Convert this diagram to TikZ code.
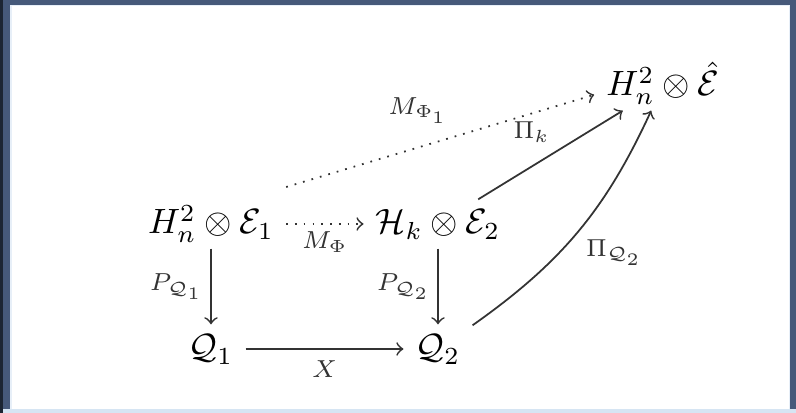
\documentclass[tikz,border=0pt]{standalone}
\usepackage{amsmath,amssymb}

\definecolor{framedark}{HTML}{1C2533}
\definecolor{frameblue}{HTML}{46597A}
\definecolor{framelight}{HTML}{D6E5F3}

\begin{document}
\begin{tikzpicture}[
  x=0.01cm,
  y=-0.01cm,
  obj/.style={inner xsep=3.3pt, inner ysep=1pt, text height=2ex, text depth=.7ex},
  lab/.style={font=\scriptsize, inner sep=2pt},
  arr/.style={->, black!80, line width=0.5pt},
  dotarr/.style={arr, dotted}
]

  % frame of the slide
  \fill[frameblue] (0,0) rectangle (796,413);
  \fill[framedark] (0,0) rectangle (3,413);
  \fill[framelight] (3,409) rectangle (796,413);
  \fill[framelight!60] (10,5) rectangle (790,409);
  \fill[white] (12,6) rectangle (789,409);

  % spaces
  \node[obj] (he1) at (211,224) {$H^2_n\otimes\mathcal{E}_1$};
  \node[obj] (hk)  at (438,224) {$\mathcal{H}_k\otimes\mathcal{E}_2$};
  \node[obj] (hh)  at (663,86)  {$H^2_n\otimes\hat{\mathcal{E}}$};
  \node[obj] (q1)  at (211,349) {$\mathcal{Q}_1$};
  \node[obj] (q2)  at (438,349) {$\mathcal{Q}_2$};

  % maps
  \draw[dotarr] (he1) -- node[lab, below] (mphi) {$M_\Phi$} (hk);
  \draw[dotarr] ([yshift=3.5pt]he1.north east) -- node[lab, anchor=south east, pos=.55, yshift=1.5pt] (mphione) {$M_{\Phi_1}$} ([yshift=-2.5pt]hh.west);
  \draw[arr] (hk) -- node[lab, above left, pos=.55] (pik) {$\Pi_k$} (hh);
  \draw[arr] (q2) to[bend right=15] node[lab, below right] (piq) {$\Pi_{\mathcal{Q}_2}$} (hh);
  \draw[arr] (he1) -- node[lab, left] (pqone) {$P_{\mathcal{Q}_1}$} (q1);
  \draw[arr] (hk) -- node[lab, left] (pqtwo) {$P_{\mathcal{Q}_2}$} (q2);
  \draw[arr] (q1) -- node[lab, below=1pt] (xmap) {$X$} (q2);

\end{tikzpicture}
\end{document}
